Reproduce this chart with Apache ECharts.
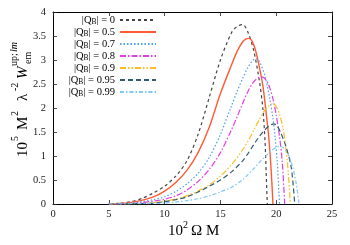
<!DOCTYPE html>
<html>
<head>
<meta charset="utf-8">
<script src="https://cdn.jsdelivr.net/npm/echarts@6/dist/echarts.min.js"></script>
<style>
html,body{margin:0;padding:0;background:#fff;}
#c{width:350px;height:245px;}
</style>
</head>
<body>
<div id="c"></div>
<script>
// ---- data ----
const seriesNames = ['|Q_B| = 0', '|Q_B| = 0.5', '|Q_B| = 0.7', '|Q_B| = 0.8', '|Q_B| = 0.9', '|Q_B| = 0.95', '|Q_B| = 0.99'];
const xTicks = [0, 5, 10, 15, 20, 25];
const yTicks = [0, 0.5, 1, 1.5, 2, 2.5, 3, 3.5, 4];

const q000 = [[5,0],[6,0.015],[7,0.05],[8,0.12],[9,0.23],[10,0.37],[11,0.58],[12,0.9],[13,1.45],[14,2.22],[15,3.0],[16,3.57],[16.5,3.7],[17,3.74],[17.5,3.56],[18,3.18],[18.5,2.55],[18.8,2.0],[19.0,1.3],[19.1,0.65],[19.2,0]];
const q050 = [[5,0],[6,0.01],[7,0.035],[8,0.08],[9,0.15],[10,0.27],[11,0.45],[12,0.7],[13,1.07],[14,1.6],[15,2.3],[16,2.9],[16.5,3.18],[17,3.38],[17.3,3.44],[17.55,3.45],[17.8,3.41],[18.1,3.24],[18.45,2.9],[18.8,2.47],[19.1,1.9],[19.35,1.35],[19.55,0.7],[19.71,0]];
const q070 = [[5,0],[6,0.005],[7,0.02],[8,0.05],[9,0.09],[10,0.15],[11,0.26],[12,0.42],[13,0.64],[14,0.97],[15,1.45],[16,2.05],[16.5,2.35],[17,2.62],[17.5,2.86],[17.9,2.99],[18.2,3.03],[18.5,2.97],[19,2.66],[19.4,2.22],[19.7,1.8],[19.9,1.4],[20.1,0.85],[20.3,0]];
const q080 = [[5,0],[7,0.01],[8,0.03],[9,0.06],[10,0.1],[11,0.17],[12,0.29],[13,0.47],[14,0.72],[15,1.07],[16,1.55],[16.5,1.82],[17,2.1],[17.5,2.36],[18,2.55],[18.4,2.63],[18.7,2.65],[19,2.61],[19.3,2.5],[19.7,2.2],[20,1.85],[20.3,1.4],[20.55,0.85],[20.76,0]];
const q090 = [[5,0],[8,0.01],[9,0.03],[10,0.06],[11,0.1],[12,0.17],[13,0.27],[14,0.4],[15,0.58],[16,0.82],[17,1.13],[17.5,1.32],[18,1.54],[18.5,1.77],[19,1.96],[19.4,2.06],[19.7,2.09],[20,2.03],[20.3,1.87],[20.6,1.6],[20.85,1.2],[21.05,0.75],[21.27,0]];
const q095 = [[5,0],[8,0.01],[9,0.02],[10,0.05],[11,0.09],[12,0.15],[13,0.25],[14,0.37],[15,0.5],[16,0.67],[17,0.9],[17.5,1.06],[18,1.24],[18.5,1.41],[19,1.55],[19.45,1.64],[19.8,1.67],[20.1,1.62],[20.45,1.46],[20.9,1.18],[21.35,0.76],[21.66,0]];
const q099 = [[5,0],[9,0.01],[10,0.02],[11,0.04],[12,0.07],[13,0.11],[14,0.17],[15,0.25],[16,0.35],[17,0.51],[17.5,0.62],[18,0.74],[18.5,0.87],[19,0.98],[19.5,1.1],[20,1.18],[20.35,1.2],[20.7,1.16],[21.1,1.02],[21.5,0.75],[21.8,0.42],[22.05,0]];

const allData = [q000, q050, q070, q080, q090, q095, q099];
const colors = ['#444444', '#ff5a36', '#4aa0f0', '#e23ee6', '#ffbb22', '#2f5d6e', '#7fc8f8'];
const dashes = [[3, 3], 'solid', [1.5, 2], [6, 2, 1.5, 2], [6, 2, 1.5, 2, 1.5, 2], [5, 3], [4, 2, 1.5, 2]];

const chart = echarts.init(document.getElementById('c'), null, {renderer: 'canvas'});
const serif = 'Liberation Serif';

const series = allData.map((d, i) => ({
  name: seriesNames[i],
  type: 'line',
  data: d,
  symbol: 'none',
  showSymbol: false,
  smooth: 0.3,
  xAxisIndex: 0,
  yAxisIndex: 0,
  lineStyle: {color: colors[i], width: i === 1 ? 1.4 : 1.2, type: dashes[i]},
  itemStyle: {color: colors[i]},
  z: 2 + i,
  animation: false
}));

const tickStyle = {show: true, inside: true, length: 4, lineStyle: {color: '#222', width: 0.8}};
const lineStyle = {show: true, onZero: false, lineStyle: {color: '#000', width: 1}};

const option = {
  animation: false,
  backgroundColor: '#fff',
  grid: {left: 53, right: 18, top: 12, bottom: 41, containLabel: false},
  legend: {
    orient: 'vertical',
    right: 193,
    top: 14,
    align: 'right',
    itemWidth: 36,
    itemHeight: 8,
    itemGap: 0,
    padding: 0,
    data: seriesNames,
    itemStyle: {opacity: 0},
    formatter: name => name.replace('Q_B', 'Q{b|B}'),
    textStyle: {
      fontFamily: serif, fontSize: 10.5, color: '#000', lineHeight: 12,
      rich: {b: {fontFamily: serif, fontSize: 7.5, verticalAlign: 'bottom', lineHeight: 5, color: '#000'}}
    }
  },
  xAxis: [{
    type: 'value', min: 0, max: 25, interval: 5, position: 'bottom',
    axisLine: lineStyle, axisTick: tickStyle, splitLine: {show: false},
    axisLabel: {fontFamily: serif, fontSize: 10.5, color: '#222', margin: 5,
      formatter: v => (xTicks.indexOf(v) >= 0 ? String(v) : '')}
  }, {
    type: 'value', min: 0, max: 25, interval: 5, position: 'top',
    axisLine: lineStyle, axisTick: tickStyle, splitLine: {show: false}, axisLabel: {show: false}
  }],
  yAxis: [{
    type: 'value', min: 0, max: 4, interval: 0.5, position: 'left',
    axisLine: lineStyle, axisTick: tickStyle, splitLine: {show: false},
    axisLabel: {fontFamily: serif, fontSize: 10.5, color: '#222', margin: 7,
      formatter: v => (yTicks.indexOf(v) >= 0 ? String(v) : '')}
  }, {
    type: 'value', min: 0, max: 4, interval: 0.5, position: 'right',
    axisLine: lineStyle, axisTick: tickStyle, splitLine: {show: false}, axisLabel: {show: false}
  }],
  graphic: [
    // y-axis title (rotated)
    {type: 'text', x: 23, y: 157, rotation: Math.PI / 2, style: {text: '10', font: '15px ' + serif, fill: '#000', textAlign: 'left', textVerticalAlign: 'middle'}},
    {type: 'text', x: 15, y: 141, rotation: Math.PI / 2, style: {text: '5', font: '10px ' + serif, fill: '#000', textAlign: 'left', textVerticalAlign: 'middle'}},
    {type: 'text', x: 23, y: 130, rotation: Math.PI / 2, style: {text: 'M', font: '15px ' + serif, fill: '#000', textAlign: 'left', textVerticalAlign: 'middle'}},
    {type: 'text', x: 15, y: 116, rotation: Math.PI / 2, style: {text: '2', font: '10px ' + serif, fill: '#000', textAlign: 'left', textVerticalAlign: 'middle'}},
    {type: 'text', x: 23, y: 101, rotation: Math.PI / 2, style: {text: 'λ', font: '15px ' + serif, fill: '#000', textAlign: 'left', textVerticalAlign: 'middle'}},
    {type: 'text', x: 15, y: 91, rotation: Math.PI / 2, style: {text: '-2', font: '10px ' + serif, fill: '#000', textAlign: 'left', textVerticalAlign: 'middle'}},
    {type: 'text', x: 23, y: 79, rotation: Math.PI / 2, style: {text: 'W', font: 'italic 15px ' + serif, fill: '#000', textAlign: 'left', textVerticalAlign: 'middle'}},
    {type: 'text', x: 28, y: 64, rotation: Math.PI / 2, style: {text: 'em', font: '10px ' + serif, fill: '#000', textAlign: 'left', textVerticalAlign: 'middle'}},
    {type: 'text', x: 14, y: 66, rotation: Math.PI / 2, style: {text: 'up;', font: '10px ' + serif, fill: '#000', textAlign: 'left', textVerticalAlign: 'middle'}},
    {type: 'text', x: 14, y: 52, rotation: Math.PI / 2, style: {text: 'lm', font: 'italic 10px ' + serif, fill: '#000', textAlign: 'left', textVerticalAlign: 'middle'}},
    // x-axis title
    {type: 'text', x: 168, y: 231, style: {text: '10', font: '15px ' + serif, fill: '#000', textAlign: 'left', textVerticalAlign: 'middle'}},
    {type: 'text', x: 183, y: 225, style: {text: '2', font: '10px ' + serif, fill: '#000', textAlign: 'left', textVerticalAlign: 'middle'}},
    {type: 'text', x: 191, y: 231, style: {text: 'Ω M', font: '15px ' + serif, fill: '#000', textAlign: 'left', textVerticalAlign: 'middle'}}
  ],
  series: series
};
chart.setOption(option);
</script>
</body>
</html>
